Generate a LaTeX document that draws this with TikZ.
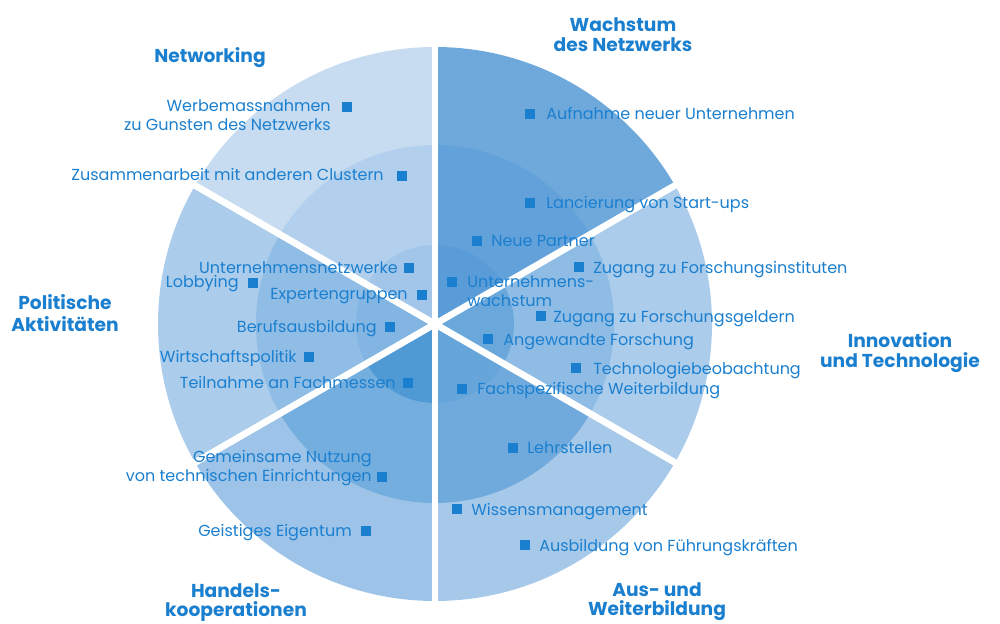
\documentclass[tikz,border=0pt]{standalone}
\usepackage{fontspec}
\setmainfont{Poppins}
\definecolor{txt}{HTML}{1B7FCF}
\definecolor{tlO}{HTML}{C7DCF0}\definecolor{tlM}{HTML}{B2D0ED}\definecolor{tlI}{HTML}{A1C6E9}
\definecolor{lO}{HTML}{ABCCEB}\definecolor{lM}{HTML}{90BDE5}\definecolor{lI}{HTML}{82B5E2}
\definecolor{blO}{HTML}{9DC4E8}\definecolor{blM}{HTML}{74AEDE}\definecolor{blI}{HTML}{4F99D5}
\definecolor{trO}{HTML}{6FA9DC}\definecolor{trM}{HTML}{62A1D9}\definecolor{trI}{HTML}{5A9CD7}
\definecolor{rO}{HTML}{ACCCEB}\definecolor{rM}{HTML}{8EBCE5}\definecolor{rI}{HTML}{6AA8DC}
\definecolor{brO}{HTML}{A6C9EA}\definecolor{brM}{HTML}{70AADD}\definecolor{brI}{HTML}{66A5DA}
\newcommand\pieSector[5]{%
  \begin{scope}
    \clip (c) -- +(#1:420) -- +({(#1+#2)/2}:420) -- +(#2:420) -- cycle;
    \fill[#3] (c) circle[radius=277];
    \fill[#4] (c) circle[radius=179];
    \fill[#5] (c) circle[radius=79];
  \end{scope}}
\begin{document}
\begin{tikzpicture}[x=0.75pt,y=-0.75pt,
  lbl/.style={text=txt,font=\fontsize{12}{14}\selectfont,inner sep=0pt},
  ttl/.style={text=txt,font=\fontsize{14}{17}\selectfont\bfseries,inner sep=0pt},
  sq/.style={fill=txt,inner sep=0pt,minimum size=6.8pt},
  divider/.style={white,line width=5pt}]
\useasboundingbox (0,0) rectangle (1000,624);
\coordinate (c) at (435,324);
% sectors (angles in flipped y: negative = counter-clockwise visually)
\pieSector{-30}{-90}{trO}{trM}{trI}
\pieSector{-90}{-150}{tlO}{tlM}{tlI}
\pieSector{-150}{-210}{lO}{lM}{lI}
\pieSector{-210}{-270}{blO}{blM}{blI}
\pieSector{-270}{-330}{brO}{brM}{brI}
\pieSector{30}{-30}{rO}{rM}{rI}
% white dividers
\draw[divider] (c) +(90:282) -- +(-90:282);
\draw[divider] (c) +(30:282) -- +(210:282);
\draw[divider] (c) +(150:282) -- +(-30:282);
% titles
\node[ttl,anchor=base] (h1a) at (210,63) {Networking};
\node[ttl,anchor=base] (h2a) at (623,32) {Wachstum};
\node[ttl,anchor=base] (h2b) at (623,52) {des Netzwerks};
\node[ttl,anchor=base] (h3a) at (65,310) {Politische};
\node[ttl,anchor=base] (h3b) at (65,331) {Aktivitäten};
\node[ttl,anchor=base] (h4a) at (900,347) {Innovation};
\node[ttl,anchor=base] (h4b) at (900,367) {und Technologie};
\node[ttl,anchor=base] (h5a) at (236,597) {Handels-};
\node[ttl,anchor=base] (h5b) at (236,616) {kooperationen};
\node[ttl,anchor=base] (h6a) at (657,596) {Aus- und};
\node[ttl,anchor=base] (h6b) at (657,615) {Weiterbildung};
% right-hand labels
\node[sq] (s1) at (530,114) {};
\node[lbl,anchor=base west] (t1) at (546,120) {Aufnahme neuer Unternehmen};
\node[sq] (s2) at (530,203) {};
\node[lbl,anchor=base west] (t2) at (546,209) {Lancierung von Start-ups};
\node[sq] (s3) at (477,241) {};
\node[lbl,anchor=base west] (t3) at (491,247) {Neue Partner};
\node[sq] (s4) at (452,282) {};
\node[lbl,anchor=base west] (t4a) at (467,287) {Unternehmens-};
\node[lbl,anchor=base west] (t4b) at (467,306) {wachstum};
\node[sq] (s5) at (579,267) {};
\node[lbl,anchor=base west] (t5) at (593,273) {Zugang zu Forschungsinstituten};
\node[sq] (s6) at (541,316) {};
\node[lbl,anchor=base west] (t6) at (553,322) {Zugang zu Forschungsgeldern};
\node[sq] (s7) at (488,339) {};
\node[lbl,anchor=base west] (t7) at (503,345) {Angewandte Forschung};
\node[sq] (s8) at (576,368) {};
\node[lbl,anchor=base west] (t8) at (593,374) {Technologiebeobachtung};
\node[sq] (s9) at (462,389) {};
\node[lbl,anchor=base west] (t9) at (477,394) {Fachspezifische Weiterbildung};
\node[sq] (s10) at (513,448) {};
\node[lbl,anchor=base west] (t10) at (527,453) {Lehrstellen};
\node[sq] (s11) at (457,509) {};
\node[lbl,anchor=base west] (t11) at (471,515) {Wissensmanagement};
\node[sq] (s12) at (525,545) {};
\node[lbl,anchor=base west] (t12) at (539,551) {Ausbildung von Führungskräften};
% left-hand labels
\node[sq] (s13) at (347,107) {};
\node[lbl,anchor=base east] (t13a) at (331,112) {Werbemassnahmen};
\node[lbl,anchor=base east] (t13b) at (331,131) {zu Gunsten des Netzwerks};
\node[sq] (s14) at (402,176) {};
\node[lbl,anchor=base east] (t14) at (384,181) {Zusammenarbeit mit anderen Clustern};
\node[sq] (s15) at (409,268) {};
\node[lbl,anchor=base east] (t15) at (398,273) {Unternehmensnetzwerke};
\node[sq] (s16) at (253,283) {};
\node[lbl,anchor=base east] (t16) at (239,287) {Lobbying};
\node[sq] (s17) at (422,295) {};
\node[lbl,anchor=base east] (t17) at (408,300) {Expertengruppen};
\node[sq] (s18) at (390,327) {};
\node[lbl,anchor=base east] (t18) at (377,332) {Berufsausbildung};
\node[sq] (s19) at (309,357) {};
\node[lbl,anchor=base east] (t19) at (297,362) {Wirtschaftspolitik};
\node[sq] (s20) at (408,383) {};
\node[lbl,anchor=base east] (t20) at (396,388) {Teilnahme an Fachmessen};
\node[sq] (s21) at (382,477) {};
\node[lbl,anchor=base east] (t21a) at (372,462) {Gemeinsame Nutzung};
\node[lbl,anchor=base east] (t21b) at (372,481) {von technischen Einrichtungen};
\node[sq] (s22) at (366,531) {};
\node[lbl,anchor=base east] (t22) at (352,536) {Geistiges Eigentum};
\end{tikzpicture}
\end{document}
